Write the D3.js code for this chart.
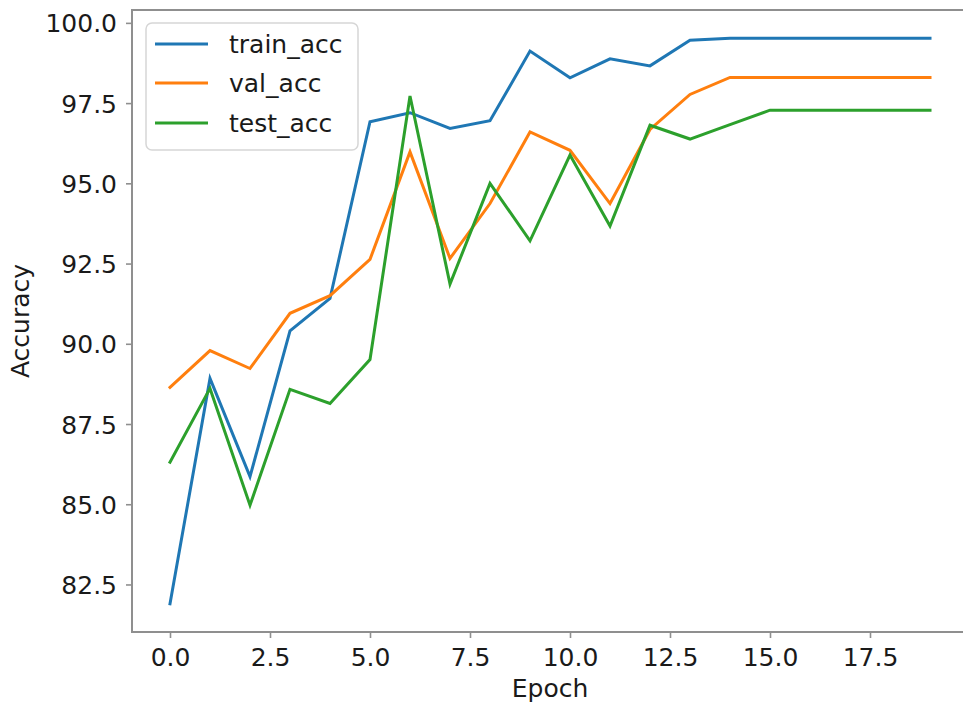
<!DOCTYPE html>
<html>
<head>
<meta charset="utf-8">
<script src="https://cdn.jsdelivr.net/npm/d3@7/dist/d3.min.js"></script>
<style>
  html, body { margin: 0; padding: 0; background: #fff; }
  svg { display: block; font-family: "DejaVu Sans", sans-serif; }
</style>
</head>
<body>
<svg id="chart" width="963" height="707"></svg>
<script>
// Accuracy per epoch for each split
const epochs = d3.range(0, 20);
const trainAcc = [81.90, 88.92, 85.86, 90.40, 91.41, 96.92, 97.20, 96.71, 96.95, 99.12,
                  98.29, 98.88, 98.66, 99.46, 99.52, 99.52, 99.52, 99.52, 99.52, 99.52];
const valAcc   = [88.64, 89.79, 89.23, 90.95, 91.50, 92.63, 95.98, 92.66, 94.37, 96.60,
                  96.03, 94.37, 96.68, 97.77, 98.30, 98.30, 98.30, 98.30, 98.30, 98.30];
const testAcc  = [86.31, 88.61, 84.97, 88.58, 88.14, 89.51, 97.72, 91.86, 95.00, 93.21,
                  95.88, 93.67, 96.81, 96.38, 96.83, 97.28, 97.28, 97.28, 97.28, 97.28];
const seriesNames = ["train_acc", "val_acc", "test_acc"];
const xTicks = [0, 2.5, 5, 7.5, 10, 12.5, 15, 17.5];
const yTicks = [82.5, 85, 87.5, 90, 92.5, 95, 97.5, 100];

const colors = ["#1f77b4", "#ff7f0e", "#2ca02c"];
const allSeries = [trainAcc, valAcc, testAcc];

const svg = d3.select("#chart");
const plot = { left: 132, right: 968, top: 10, bottom: 632 };

// 5% padding around the data extent on both axes
const xExt = d3.extent(epochs);
const xPad = (xExt[1] - xExt[0]) * 0.05;
const allVals = allSeries.flat();
const yExt = d3.extent(allVals);
const yPad = (yExt[1] - yExt[0]) * 0.05;

const x = d3.scaleLinear().domain([xExt[0] - xPad, xExt[1] + xPad]).range([plot.left, plot.right]);
const y = d3.scaleLinear().domain([yExt[0] - yPad, yExt[1] + yPad]).range([plot.bottom, plot.top]);

const textColor = "#1a1a1a";
const spineColor = "#8f8f8f";

// Lines
const line = d3.line().x((d, i) => x(epochs[i])).y(d => y(d));
svg.append("g").selectAll("path")
  .data(allSeries)
  .join("path")
  .attr("d", d => line(d))
  .attr("fill", "none")
  .attr("stroke", (d, i) => colors[i])
  .attr("stroke-width", 3)
  .attr("stroke-linejoin", "miter")
  .attr("stroke-linecap", "square");

// Axes
const xAxis = d3.axisBottom(x).tickValues(xTicks).tickFormat(d3.format(".1f")).tickSize(6).tickPadding(8);
const yAxis = d3.axisLeft(y).tickValues(yTicks).tickFormat(d3.format(".1f")).tickSize(6).tickPadding(8);

const gx = svg.append("g").attr("transform", `translate(0,${plot.bottom})`).call(xAxis);
const gy = svg.append("g").attr("transform", `translate(${plot.left},0)`).call(yAxis);

[gx, gy].forEach(g => {
  g.select(".domain").remove();
  g.selectAll(".tick line").attr("stroke", spineColor).attr("stroke-width", 1.6);
  g.selectAll(".tick text")
    .attr("fill", textColor)
    .style("font-size", "25px")
    .style("font-family", "'DejaVu Sans', sans-serif");
});
gx.selectAll(".tick text").attr("dy", null).attr("y", 34);
gy.selectAll(".tick text").attr("dy", "0.36em").attr("x", -15);

// Spines (left, bottom, top; right sits at the panel edge)
svg.append("rect")
  .attr("x", plot.left).attr("y", plot.top)
  .attr("width", plot.right - plot.left).attr("height", plot.bottom - plot.top)
  .attr("fill", "none").attr("stroke", spineColor).attr("stroke-width", 2);

// Axis titles
svg.append("text")
  .attr("x", (plot.left + plot.right) / 2).attr("y", 697)
  .attr("text-anchor", "middle")
  .attr("fill", textColor)
  .style("font-size", "25px")
  .text("Epoch");

svg.append("text")
  .attr("transform", `translate(29,${(plot.top + plot.bottom) / 2}) rotate(-90)`)
  .attr("text-anchor", "middle")
  .attr("fill", textColor)
  .style("font-size", "25px")
  .text("Accuracy");

// Legend
const legend = svg.append("g");
legend.append("rect")
  .attr("x", 146).attr("y", 23).attr("width", 212).attr("height", 127)
  .attr("rx", 6).attr("ry", 6)
  .attr("fill", "#ffffff").attr("fill-opacity", 0.8)
  .attr("stroke", "#d6d6d6").attr("stroke-width", 1.5);

const rowY = [44, 83, 123];
seriesNames.forEach((name, i) => {
  legend.append("line")
    .attr("x1", 155).attr("x2", 208)
    .attr("y1", rowY[i]).attr("y2", rowY[i])
    .attr("stroke", colors[i]).attr("stroke-width", 3);
  legend.append("text")
    .attr("x", 229).attr("y", rowY[i] + 9)
    .attr("fill", textColor)
    .style("font-size", "25px")
    .text(name);
});
</script>
</body>
</html>
